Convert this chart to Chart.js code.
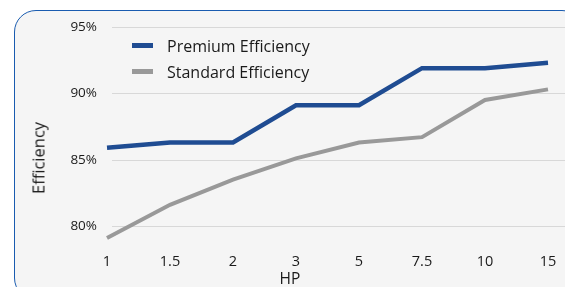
<!DOCTYPE html>
<html>
<head>
<meta charset="utf-8">
<script src="https://cdn.jsdelivr.net/npm/chart.js@4/dist/chart.umd.min.js"></script>
<style>
    html, body { margin: 0; padding: 0; background: #ffffff; }
    #wrap { position: relative; width: 565px; height: 287px; overflow: hidden; }
    #panel {
        position: absolute; left: 14px; top: 10px; width: 570px; height: 290px;
        box-sizing: border-box; border: 1.5px solid #1a5cb0; border-radius: 22px;
        background: #f5f5f5;
    }
    #myChart { position: absolute; left: 0; top: 0; }
    .leg { position: absolute; left: 132px; font: 16px "Open Sans", sans-serif; color: #1a1a1a; white-space: nowrap; }
    .leg span { position: absolute; left: 0; width: 21px; height: 5px; }
    .leg b { position: absolute; left: 35px; font-weight: normal; }
    #ytitle {
        position: absolute; left: 38px; top: 158px; font: 16.5px "Open Sans", sans-serif; color: #1a1a1a;
        transform: translate(-50%, -50%) rotate(-90deg); white-space: nowrap;
    }
    #xtitle {
        position: absolute; left: 290px; top: 278px; font: 15.5px "Open Sans", sans-serif; color: #1a1a1a;
        transform: translate(-50%, -50%); white-space: nowrap;
    }
</style>
</head>
<body>
<div id="wrap">
    <div id="panel"></div>
    <canvas id="myChart" width="565" height="287"></canvas>
    <div id="legend"></div>
    <div id="ytitle">Efficiency</div>
    <div id="xtitle">HP</div>
</div>
<script>
// data
const hpLabels = ["1", "1.5", "2", "3", "5", "7.5", "10", "15"];
const premiumEff = [85.9, 86.3, 86.3, 89.1, 89.1, 91.9, 91.9, 92.3];
const standardEff = [79.1, 81.6, 83.5, 85.1, 86.3, 86.7, 89.5, 90.3];
const yTicks = [80, 85, 90, 95];

const seriesNames = ["Premium Efficiency", "Standard Efficiency"];
const seriesColors = ["#1f4c92", "#999999"];

// vẽ gridline ngang, lệch sang phải như hình gốc
const gridPlugin = {
    id: 'gridLines',
    beforeDatasetsDraw(chart) {
        const ctx = chart.ctx;
        const y = chart.scales.y;
        ctx.save();
        ctx.strokeStyle = '#d8d8d8';
        ctx.lineWidth = 1;
        yTicks.forEach(v => {
            const py = Math.round(y.getPixelForValue(v)) + 0.5;
            ctx.beginPath();
            ctx.moveTo(chart.chartArea.left + 5, py);
            ctx.lineTo(chart.width, py);
            ctx.stroke();
        });
        ctx.restore();
    }
};

const ctx = document.getElementById('myChart').getContext('2d');
new Chart(ctx, {
    type: 'line',
    data: {
        labels: hpLabels,
        datasets: [
            { label: seriesNames[0], data: premiumEff, borderColor: seriesColors[0], borderWidth: 4.5, pointRadius: 0, tension: 0 },
            { label: seriesNames[1], data: standardEff, borderColor: seriesColors[1], borderWidth: 4, pointRadius: 0, tension: 0 }
        ]
    },
    options: {
        responsive: false,
        animation: false,
        layout: { padding: { left: 25, right: 17, top: 27, bottom: 0 } },
        plugins: { legend: { display: false }, tooltip: { enabled: false } },
        scales: {
            x: {
                offset: false,
                grid: { display: false, drawTicks: false },
                border: { display: false },
                ticks: { color: '#1a1a1a', padding: 7, font: { family: 'Open Sans', size: 14.5 }, maxRotation: 0, autoSkip: false },
                afterFit: s => { s.height = 41; }
            },
            y: {
                min: 78.5,
                max: 95,
                grid: { display: false, drawTicks: false },
                border: { display: false },
                afterBuildTicks: s => { s.ticks = yTicks.map(v => ({ value: v })); },
                ticks: { color: '#1a1a1a', padding: 10, font: { family: 'Open Sans', size: 13.5 }, callback: v => v + '%' },
                afterFit: s => { s.width = 82; }
            }
        }
    },
    plugins: [gridPlugin]
});

// legend HTML
const legend = document.getElementById('legend');
legend.innerHTML = seriesNames.map((n, i) => `
    <div class="leg" style="top:${35 + i * 26}px">
        <span style="top:8px;background:${seriesColors[i]}"></span><b>${n}</b>
    </div>`).join('');
</script>
</body>
</html>
